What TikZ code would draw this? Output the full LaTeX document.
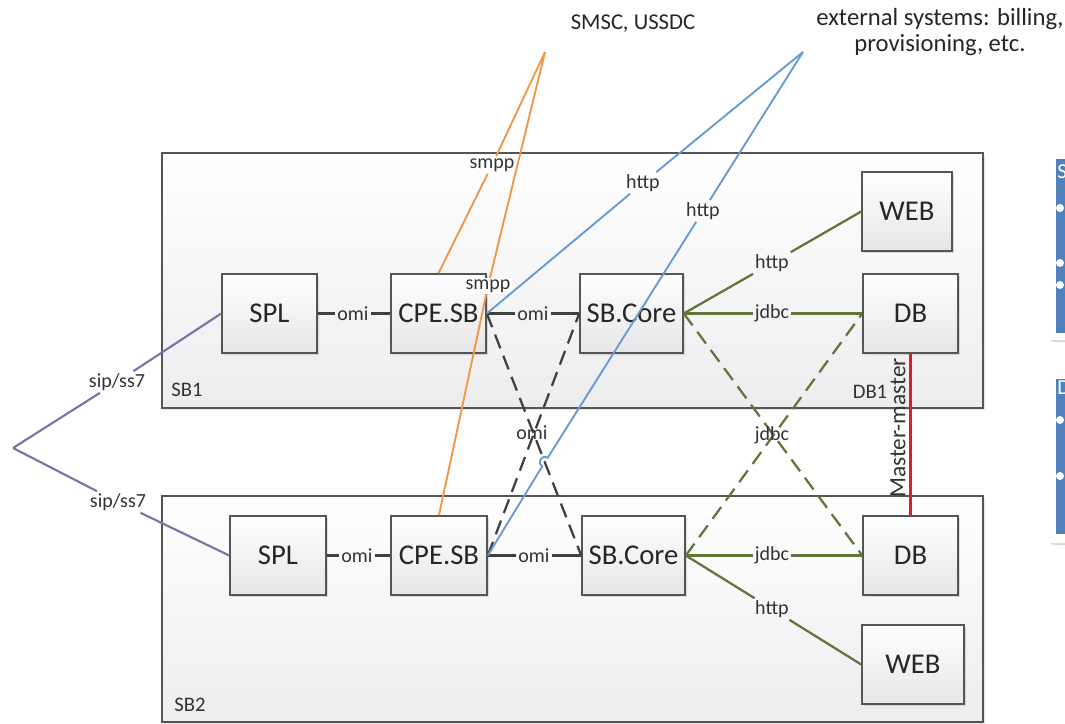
\documentclass[tikz,border=0pt]{standalone}
\usepackage{fontspec}
\setmainfont{Carlito}
\usetikzlibrary{shadows,calc}
\definecolor{cgreen}{RGB}{98,118,58}
\definecolor{cblue}{RGB}{100,155,210}
\definecolor{corange}{RGB}{240,150,70}
\definecolor{cpurple}{RGB}{128,112,166}
\definecolor{cred}{RGB}{220,30,40}
\definecolor{cpanel}{RGB}{79,129,189}
\definecolor{cedge}{RGB}{85,85,85}
\begin{document}
\begin{tikzpicture}[x=0.75pt,y=-0.75pt,
  container/.style={draw=cedge,line width=1.3pt,top color=white,bottom color={rgb,255:red,237;green,237;blue,240},
    drop shadow={shadow xshift=1.5pt,shadow yshift=-1.5pt,opacity=0.2,fill=gray}},
  box/.style={draw=cedge,line width=1.2pt,top color=white,bottom color={rgb,255:red,230;green,230;blue,232},
    minimum height=59.25pt,font=\fontsize{21.5}{24}\selectfont,text=black!85,
    drop shadow={shadow xshift=1.5pt,shadow yshift=-1.5pt,opacity=0.25,fill=gray}},
  lbl/.style={font=\fontsize{15}{18}\selectfont,text=black!80,inner sep=1.5pt},
  grp/.style={font=\fontsize{15.5}{18}\selectfont,text=black!80,inner sep=0pt},
  omiline/.style={draw=black!75,line width=1.7pt},
  omidash/.style={draw=black!75,line width=1.7pt,dash pattern=on 11pt off 6pt},
  grline/.style={draw=cgreen,line width=1.7pt},
  grdash/.style={draw=cgreen,line width=1.7pt,dash pattern=on 11pt off 6pt},
  blline/.style={draw=cblue,line width=1.4pt},
  orline/.style={draw=corange,line width=1.4pt},
  puline/.style={draw=cpurple,line width=1.6pt},
  reline/.style={draw=cred,line width=1.6pt},
  toptext/.style={font=\fontsize{17}{19}\selectfont,text=black!85,align=center}
]
\useasboundingbox (0,0) rectangle (1065,724);
\clip (0,0) rectangle (1065,724);

% containers
\path[container] (162,153) rectangle (983,408);
\path[container] (162,496) rectangle (983,722);
\node[grp] (sb1) at (187,390) {SB1};
\node[grp] (sb2) at (190,705) {SB2};
\node[grp] (db1lbl) at (870,392) {DB1};

% right-hand panels (cut off at the picture's edge)
\path[fill=white,rounded corners=3pt,drop shadow={shadow xshift=1.5pt,shadow yshift=-1.5pt,opacity=0.3,fill=gray}] (1048,153) rectangle (1080,340);
\path[fill=cpanel] (1056,159) rectangle (1080,333);
\node[anchor=west,text=white,font=\fontsize{16}{18}\selectfont,inner sep=0pt] (ps) at (1057,172) {S};
\foreach \yy in {208,263,285} \fill[white] (1060,\yy) circle (3pt);
\path[fill=white,rounded corners=3pt,drop shadow={shadow xshift=1.5pt,shadow yshift=-1.5pt,opacity=0.3,fill=gray}] (1048,372) rectangle (1080,543);
\path[fill=cpanel] (1056,379) rectangle (1080,534);
\node[anchor=west,text=white,font=\fontsize{16}{18}\selectfont,inner sep=0pt] (pd) at (1057,388) {D};
\foreach \yy in {420,476} \fill[white] (1060,\yy) circle (3pt);

% boxes row 1
\node[box,minimum width=71.25pt] (SPL1) at (269.5,313.5) {SPL};
\node[box,minimum width=71.25pt] (CPE1) at (438.5,313.5) {CPE.SB};
\node[box,minimum width=77.25pt] (CORE1) at (631.5,313.5) {SB.Core};
\node[box,minimum width=67.5pt] (WEB1) at (907,211.5) {WEB};
\node[box,minimum width=71.25pt] (DB1) at (910.5,313.5) {DB};
% boxes row 2
\node[box,minimum width=72pt] (SPL2) at (278,555.5) {SPL};
\node[box,minimum width=72pt] (CPE2) at (439,555.5) {CPE.SB};
\node[box,minimum width=77.25pt] (CORE2) at (633.5,555.5) {SB.Core};
\node[box,minimum width=71.25pt] (DB2) at (910.5,555.5) {DB};
\node[box,minimum width=76.5pt] (WEB2) at (913,664.5) {WEB};

% top texts
\node[toptext] (smsc) at (633,24) {SMSC, USSDC};
\node[toptext,font=\fontsize{18.5}{20}\selectfont] (ext) at (940,32) {external systems: billing,\\provisioning, etc.};
\coordinate (O) at (545,52);
\coordinate (B) at (803,52);
\coordinate (P) at (13,448);

% labels
\node[lbl] (omi1a) at (353,313.5) {omi};
\node[lbl] (omi1b) at (533,313.5) {omi};
\node[lbl] (omi2a) at (357,555.5) {omi};
\node[lbl] (omi2b) at (534,555.5) {omi};
\node[lbl] (jdbc1) at (772,313.5) {jdbc};
\node[lbl] (jdbc2) at (772,555.5) {jdbc};
\node[lbl] (http3) at (772,263) {http};
\node[lbl] (http4) at (772,609) {http};
\node[lbl] (http1) at (643,183) {http};
\node[lbl] (http2) at (703,211) {http};
\node[lbl] (smppA) at (492,165) {smpp};
\node[lbl] (sip1) at (117,382) {sip/ss7};
\node[lbl] (sip2) at (118,502) {sip/ss7};

% omi connectors
\draw[omiline] (SPL1.east) -- (omi1a);
\draw[omiline] (omi1a) -- (CPE1.west);
\draw[omiline] (CPE1.east) -- (omi1b);
\draw[omiline] (omi1b) -- (CORE1.west);
\draw[omiline] (SPL2.east) -- (omi2a);
\draw[omiline] (omi2a) -- (CPE2.west);
\draw[omiline] (CPE2.east) -- (omi2b);
\draw[omiline] (omi2b) -- (CORE2.west);
\draw[omidash] (CPE1.east) -- (CORE2.west);
\draw[omidash] (CPE2.east) -- (CORE1.west);
\node[lbl] (omiX) at (532,433) {omi};

% green connectors
\draw[grline] (CORE1.east) -- (jdbc1);
\draw[grline] (jdbc1) -- (DB1.west);
\draw[grline] (CORE1.east) -- (http3);
\draw[grline] (http3) -- (WEB1.west);
\draw[grline] (CORE2.east) -- (jdbc2);
\draw[grline] (jdbc2) -- (DB2.west);
\draw[grline] (CORE2.east) -- (http4);
\draw[grline] (http4) -- (WEB2.west);
\draw[grdash] (CORE1.east) -- (DB2.west);
\draw[grdash] (CORE2.east) -- (DB1.west);
\node[lbl] (jdbcX) at (772,435) {jdbc};

% red master-master
\draw[reline] (DB1.south) -- (DB2.north);
\node[lbl,rotate=90,font=\fontsize{17.5}{19}\selectfont,inner sep=0pt] (mm) at (898,428) {Master-master};

% purple
\draw[puline] (P) -- (sip1);
\draw[puline] (sip1) -- (SPL1.west);
\draw[puline] (P) -- (sip2);
\draw[puline] (sip2) -- (SPL2.west);

% orange
\node[lbl,fill=white,inner sep=1pt] (smppB) at (488,286) {smpp};
\draw[orline] (O) -- (smppA);
\draw[orline] (smppA) -- (CPE1.north);
\draw[orline] (O) -- (smppB);
\draw[orline] (smppB) -- (CPE2.north);

% blue
\coordinate (jA) at (547.7,457.8);
\coordinate (jC) at (542.3,466.2);
\draw[blline] (B) -- (http1);
\draw[blline] (http1) -- (CPE1.east);
\draw[blline] (B) -- (http2);
\draw[blline] (http2) -- (jA) .. controls (541.8,454.1) and (536.4,462.5) .. (jC) -- (CPE2.east);
\end{tikzpicture}
\end{document}
